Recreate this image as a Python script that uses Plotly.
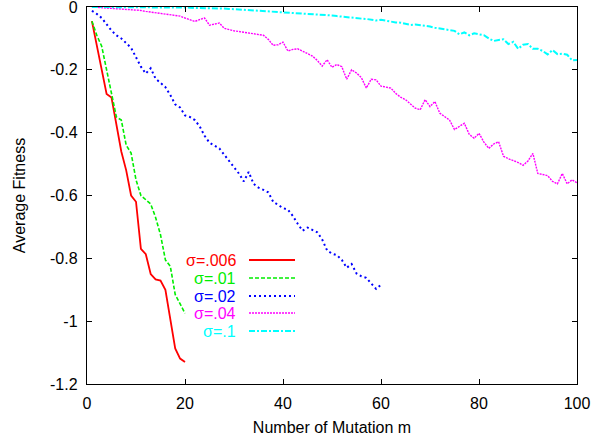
import plotly.graph_objects as go

# ---------------- data ----------------
m20 = list(range(1, 21))
m60 = list(range(1, 61))
m100 = list(range(1, 101))

sig006 = [-0.045, -0.12, -0.2, -0.277, -0.288, -0.37, -0.46, -0.52, -0.6, -0.62,
          -0.77, -0.787, -0.85, -0.867, -0.871, -0.9, -1.0, -1.087, -1.119, -1.13]

sig01 = [-0.045, -0.09, -0.125, -0.2, -0.27, -0.35, -0.36, -0.44, -0.465, -0.55,
         -0.6, -0.615, -0.627, -0.67, -0.725, -0.805, -0.825, -0.915, -0.945, -0.975]

sig02 = [-0.012, -0.022, -0.035, -0.055, -0.075, -0.09, -0.1, -0.115, -0.13, -0.16,
         -0.19, -0.212, -0.195, -0.228, -0.24, -0.255, -0.28, -0.31, -0.32, -0.345,
         -0.35, -0.36, -0.38, -0.41, -0.432, -0.442, -0.45, -0.47, -0.49, -0.51,
         -0.53, -0.555, -0.525, -0.563, -0.575, -0.582, -0.59, -0.62, -0.63, -0.64,
         -0.645, -0.665, -0.69, -0.712, -0.702, -0.71, -0.717, -0.74, -0.775, -0.785,
         -0.79, -0.805, -0.83, -0.818, -0.848, -0.857, -0.862, -0.88, -0.897, -0.884]

sig04 = [0.0, -0.001, -0.001, -0.002, -0.003, -0.004, -0.005, -0.006, -0.007, -0.009,
         -0.011, -0.014, -0.016, -0.018, -0.021, -0.023, -0.025, -0.027, -0.029, -0.035,
         -0.04, -0.046, -0.04, -0.035, -0.058, -0.055, -0.051, -0.068, -0.073, -0.076,
         -0.078, -0.08, -0.083, -0.085, -0.087, -0.09, -0.103, -0.122, -0.12, -0.112,
         -0.14, -0.135, -0.133, -0.14, -0.148, -0.156, -0.17, -0.188, -0.168, -0.192,
         -0.183, -0.19, -0.23, -0.2, -0.21, -0.225, -0.258, -0.23, -0.232, -0.252,
         -0.255, -0.258, -0.275, -0.287, -0.295, -0.31, -0.322, -0.327, -0.295, -0.317,
         -0.301, -0.338, -0.35, -0.36, -0.39, -0.38, -0.37, -0.405, -0.418, -0.402,
         -0.43, -0.45, -0.436, -0.429, -0.475, -0.483, -0.488, -0.495, -0.504, -0.49,
         -0.466, -0.53, -0.533, -0.537, -0.555, -0.563, -0.53, -0.563, -0.55, -0.56]

sig1 = [0.0, 0.0, 0.0, 0.0, 0.0, 0.0, 0.0, 0.0, -0.001, -0.001,
        -0.001, -0.001, -0.001, -0.001, -0.001, -0.001, -0.001, -0.001, -0.001, -0.002,
        -0.002, -0.003, -0.003, -0.003, -0.004, -0.004, -0.005, -0.005, -0.006, -0.007,
        -0.008, -0.008, -0.009, -0.01, -0.01, -0.011, -0.012, -0.013, -0.014, -0.015,
        -0.016, -0.017, -0.018, -0.019, -0.02, -0.022, -0.023, -0.025, -0.026, -0.027,
        -0.029, -0.031, -0.033, -0.034, -0.035, -0.037, -0.038, -0.04, -0.043, -0.041,
        -0.044, -0.047, -0.049, -0.05, -0.054, -0.057, -0.056, -0.058, -0.058, -0.062,
        -0.066, -0.068, -0.071, -0.074, -0.076, -0.087, -0.081, -0.09, -0.084, -0.087,
        -0.09, -0.1, -0.108, -0.105, -0.103, -0.118, -0.111, -0.133, -0.12, -0.118,
        -0.133, -0.133, -0.14, -0.151, -0.137, -0.15, -0.149, -0.152, -0.17, -0.169]

series_names = ["σ=.006", "σ=.01", "σ=.02", "σ=.04", "σ=.1"]

x_tickvals = [0, 20, 40, 60, 80, 100]
x_ticktext = ["0", "20", "40", "60", "80", "100"]
y_tickvals = [0, -0.2, -0.4, -0.6, -0.8, -1.0, -1.2]
y_ticktext = ["0", "-0.2", "-0.4", "-0.6", "-0.8", "-1", "-1.2"]

# ---------------- styles ----------------
colors = ["#ff0000", "#00ee00", "#0000ff", "#ff00ff", "#00ffff"]
dashes = ["solid", "4px,2px", "2px,3px", "2px,1px", "6px,2px,2px,2px"]
widths = [1.8, 1.6, 2.0, 1.4, 2.0]

xs = [m20, m20, m60, m100, m100]
ys = [sig006, sig01, sig02, sig04, sig1]

FONT = "Liberation Sans, Arial, Helvetica"
XR = [0, 100]
YR = [-1.2, 0]

fig = go.Figure()
for x, y, c, d, w, n in zip(xs, ys, colors, dashes, widths, series_names):
    fig.add_trace(go.Scatter(x=x, y=y, mode="lines", name=n,
                             line=dict(color=c, dash=d, width=w),
                             showlegend=False))
# empty trace so the mirrored top/right axes get drawn
fig.add_trace(go.Scatter(x=[], y=[], xaxis="x2", yaxis="y2", showlegend=False,
                         hoverinfo="skip"))

# gnuplot-style key (text right-aligned, line sample on the right)
L, R, T, B = 87, 577, 7, 384
W, H = R - L, B - T
row_y = [260, 278, 296, 313, 331]
text_right = 238
samp_x0, samp_x1 = 249, 295
for n, c, d, w, py in zip(series_names, colors, dashes, widths, row_y):
    yp = (B - py) / H
    fig.add_annotation(x=(text_right - L) / W, y=yp, xref="paper", yref="paper",
                       text=n, showarrow=False, xanchor="right", yanchor="middle",
                       font=dict(color=c, size=16, family=FONT))
    fig.add_shape(type="line", xref="paper", yref="paper",
                  x0=(samp_x0 - L) / W, x1=(samp_x1 - L) / W, y0=yp, y1=yp,
                  line=dict(color=c, dash=d, width=w))

axis_common = dict(showline=True, linecolor="black", linewidth=1.2,
                   ticks="inside", ticklen=5, tickcolor="black", showgrid=False,
                   zeroline=False, automargin=False, ticklabeloverflow="allow",
                   tickfont=dict(size=16, color="black", family=FONT))

fig.update_layout(
    width=592, height=440,
    margin=dict(l=L, r=592 - R, t=T, b=440 - B, autoexpand=False),
    paper_bgcolor="white", plot_bgcolor="white",
    font=dict(family=FONT, color="black", size=16),
    xaxis=dict(range=XR, tickvals=x_tickvals, ticktext=x_ticktext,
               ticklabelstandoff=5,
               title=dict(text="Number of Mutation m", standoff=10,
                          font=dict(size=16, family=FONT)),
               **axis_common),
    yaxis=dict(range=YR, tickvals=y_tickvals, ticktext=y_ticktext,
               ticklabelstandoff=5,
               title=dict(text="Average Fitness", standoff=20,
                          font=dict(size=16, family=FONT)),
               **axis_common),
    xaxis2=dict(range=XR, tickvals=x_tickvals, showticklabels=False, side="top",
                overlaying="x", anchor="y2", **axis_common),
    yaxis2=dict(range=YR, tickvals=y_tickvals, showticklabels=False, side="right",
                overlaying="y", anchor="x2", **axis_common),
)

fig.write_html("out.html",
               config={"displayModeBar": False, "staticPlot": True},
               post_script="document.body.style.margin='0';document.body.style.padding='0';document.body.style.overflow='hidden';")
